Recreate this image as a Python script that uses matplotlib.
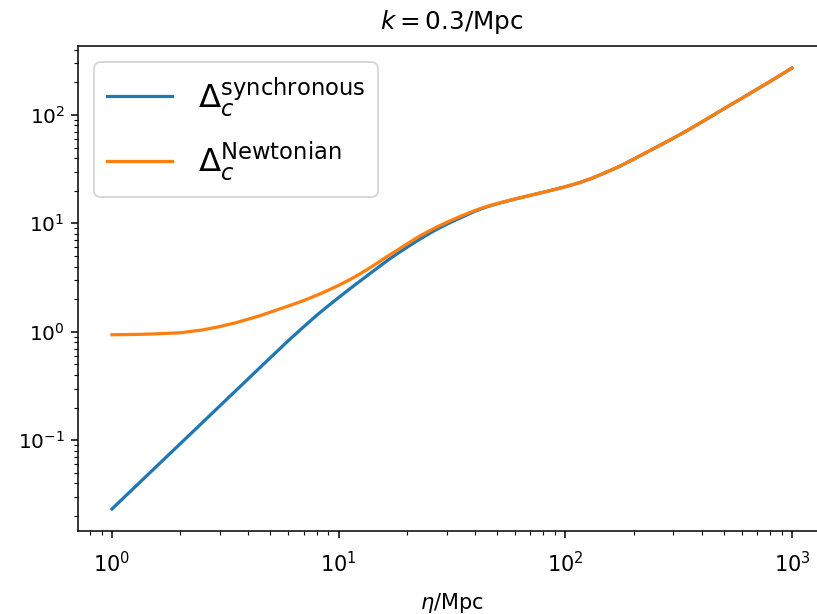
import matplotlib
matplotlib.use("Agg")
import matplotlib.pyplot as plt

eta = [1, 1.25, 1.5, 2, 2.5, 3, 3.5, 4, 4.5, 5, 6, 7, 8, 9, 10, 11, 12, 13.5,
       15, 16.5, 18, 20, 22, 24, 26, 28, 30, 32.5, 35, 40, 45, 50, 55, 60,
       70, 80, 90, 100, 115, 130, 150, 174, 200, 230, 260, 300, 350, 400,
       450, 500, 600, 700, 800, 900, 1000]

# cold dark matter density contrast, synchronous gauge
delta_sync = [0.0233, 0.0364, 0.0524, 0.093, 0.145, 0.209, 0.284, 0.371, 0.469,
              0.578, 0.83, 1.11, 1.42, 1.74, 2.07, 2.42, 2.78, 3.35,
              3.95, 4.58, 5.2, 6.0, 6.82, 7.62, 8.4, 9.13, 9.82, 10.62, 11.4,
              12.95, 14.2, 15.15, 15.98, 16.74,
              18.1, 19.35, 20.55, 21.75, 23.65, 25.85, 29.3, 33.6, 39.0, 45.5,
              52.0, 61.0, 73.0, 86.0, 99.5, 113.5, 142.0, 172.0, 203.0, 236.0, 270.0]

# cold dark matter density contrast, Newtonian gauge
delta_newt = [0.94, 0.945, 0.955, 0.98, 1.04, 1.12, 1.21, 1.31, 1.41,
              1.52, 1.73, 1.94, 2.17, 2.42, 2.68, 2.97, 3.28, 3.8,
              4.38, 5.0, 5.6, 6.45, 7.3, 8.1, 8.85, 9.55, 10.2, 11.0, 11.75,
              13.15, 14.3, 15.2, 16.0, 16.75,
              18.1, 19.35, 20.55, 21.75, 23.65, 25.85, 29.3, 33.6, 39.0, 45.5,
              52.0, 61.0, 73.0, 86.0, 99.5, 113.5, 142.0, 172.0, 203.0, 236.0, 270.0]

k = 0.3

fig = plt.figure(figsize=(817 / 137, 614 / 137), dpi=137)
# the axes run a little past the right edge, as in the cropped original
ax = fig.add_axes([78 / 817, 83 / 614, 748 / 817, 485 / 614])

ax.plot(eta, delta_sync, lw=1.7, label=r'$\Delta_c^{\rm synchronous}$')
ax.plot(eta, delta_newt, lw=1.7, label=r'$\Delta_c^{\rm Newtonian}$')

ax.set_xscale('log')
ax.set_yscale('log')
ax.spines['right'].set_visible(False)
ax.tick_params(axis='x', labelsize=11, pad=7)
ax.tick_params(axis='y', labelsize=10.5)
ax.set_xlabel(r'$\eta$/Mpc', fontsize=11, labelpad=8)
ax.set_title(rf'$k={k}$/Mpc', fontsize=13, pad=9)
ax.legend(fontsize=17, labelspacing=0.6)

fig.savefig('out.png', dpi=137)
